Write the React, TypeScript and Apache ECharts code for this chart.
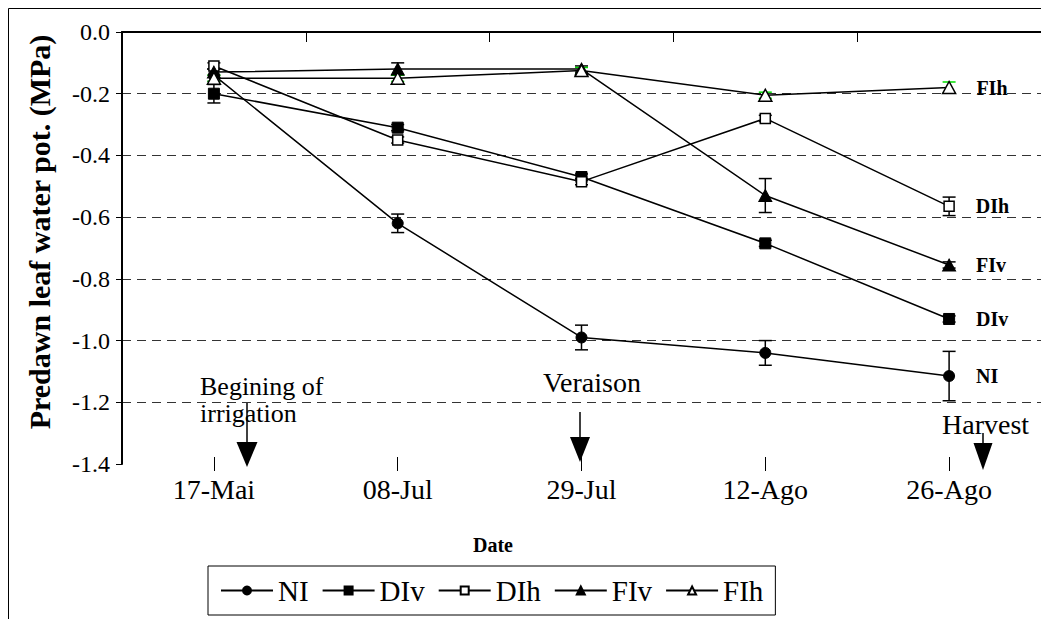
import React, { useEffect, useRef } from 'react';
import * as echarts from 'echarts';

const dates = ['17-Mai', '08-Jul', '29-Jul', '12-Ago', '26-Ago'];
const seriesNames = ['NI', 'DIv', 'DIh', 'FIv', 'FIh'];

const NI = [-0.14, -0.62, -0.99, -1.04, -1.115];
const NIerr = [0.02, 0.03, 0.04, 0.04, 0.08];
const DIv = [-0.2, -0.31, -0.47, -0.685, -0.93];
const DIvErr = [0.03, 0.01, 0.01, 0.01, 0.01];
const DIh = [-0.11, -0.35, -0.485, -0.28, -0.565];
const DIhErr = [0.01, 0.01, 0.01, 0.01, 0.03];
const FIv = [-0.13, -0.12, -0.12, -0.53, -0.755];
const FIvErr = [0.01, 0.02, 0.01, 0.055, 0.01];
const FIh = [-0.15, -0.15, -0.125, -0.205, -0.18];
const FIhErr = [0.01, 0.01, 0.01, 0.01, 0.018];

const yMin = -1.4;
const yMax = 0;
const yStep = 0.2;

const SERIF = '"Times New Roman", "Liberation Serif", Times, serif';

function errorSeries(name: string, values: number[], errs: number[], color: string) {
  return {
    type: 'custom',
    name: name + '-err',
    xAxisIndex: 0,
    yAxisIndex: 0,
    silent: true,
    z: 1,
    data: values.map((v, i) => [i, v, errs[i]]),
    renderItem: (params: any, api: any) => {
      const x = api.value(0);
      const y = api.value(1);
      const e = api.value(2);
      const top = api.coord([x, y + e]);
      const bot = api.coord([x, y - e]);
      const hw = 6.5;
      const style = { stroke: color, lineWidth: 1.5 };
      return {
        type: 'group',
        children: [
          { type: 'line', shape: { x1: top[0], y1: top[1], x2: bot[0], y2: bot[1] }, style },
          { type: 'line', shape: { x1: top[0] - hw, y1: top[1], x2: top[0] + hw, y2: top[1] }, style },
          { type: 'line', shape: { x1: bot[0] - hw, y1: bot[1], x2: bot[0] + hw, y2: bot[1] }, style },
        ],
      };
    },
  };
}

function lineSeries(name: string, values: number[], symbol: string, size: any, filled: boolean, labelDist: number) {
  const last = values.length - 1;
  return {
    type: 'line',
    name,
    xAxisIndex: 0,
    yAxisIndex: 0,
    z: 3,
    symbol,
    symbolSize: size,
    showAllSymbol: true,
    lineStyle: { color: '#000', width: 1.5 },
    itemStyle: filled
      ? { color: '#000', borderColor: '#000', borderWidth: 1 }
      : { color: '#fff', borderColor: '#000', borderWidth: 1.5 },
    data: values.map((v, i) =>
      i === last
        ? {
            value: v,
            label: {
              show: true,
              position: 'right',
              distance: labelDist,
              formatter: '{a}',
              fontFamily: SERIF,
              fontWeight: 'bold',
              fontSize: 20,
              color: '#000',
            },
          }
        : v
    ),
  };
}

function arrow(x: number, yStart: number, yHead: number, yTip: number, halfW: number) {
  return [
    { type: 'line', shape: { x1: x, y1: yStart, x2: x, y2: yHead }, style: { stroke: '#000', lineWidth: 1.5 }, z: 10 },
    { type: 'polygon', shape: { points: [[x - halfW, yHead], [x + halfW, yHead], [x, yTip]] }, style: { fill: '#000' }, z: 10 },
  ];
}

function annText(text: string, x: number, y: number, size: number) {
  return {
    type: 'text',
    x,
    y,
    z: 9,
    style: {
      text,
      fontFamily: SERIF,
      fontSize: size,
      fill: '#000',
      textAlign: 'left',
      textVerticalAlign: 'middle',
    },
  };
}

export default function App() {
  const ref = useRef<HTMLDivElement>(null);

  useEffect(() => {
    document.body.style.margin = '0';
    if (!ref.current) return;
    const chart = echarts.init(ref.current, null, { renderer: 'svg' });

    const xAxisBase = {
      type: 'category',
      data: dates,
      gridIndex: 0,
      position: 'bottom',
      boundaryGap: true,
    };

    const option: any = {
      animation: false,
      backgroundColor: '#fff',
      grid: { left: 122, top: 32, width: 931, height: 432 },
      legend: {
        data: seriesNames,
        left: 208,
        top: 566,
        orient: 'horizontal',
        itemWidth: 52,
        itemHeight: 10,
        itemGap: 13,
        borderColor: '#000',
        borderWidth: 1,
        padding: [10, 12],
        backgroundColor: '#fff',
        selectedMode: false,
        textStyle: { fontFamily: SERIF, fontSize: 29, color: '#000' },
      },
      xAxis: [
        {
          ...xAxisBase,
          axisLine: { show: true, lineStyle: { color: '#000', width: 2 } },
          axisTick: { show: true, length: 10, lineStyle: { color: '#000', width: 1 } },
          axisLabel: { fontFamily: SERIF, fontSize: 28, color: '#000', margin: 11 },
          splitLine: { show: false },
        },
        {
          ...xAxisBase,
          axisLine: { show: false },
          axisTick: { show: true, alignWithLabel: true, length: 7, lineStyle: { color: '#000', width: 1 } },
          axisLabel: { show: false },
          splitLine: { show: false },
        },
        {
          ...xAxisBase,
          axisLine: { show: false },
          axisTick: { show: true, inside: true, alignWithLabel: true, length: 7, lineStyle: { color: '#000', width: 1 } },
          axisLabel: { show: false },
          splitLine: { show: false },
        },
      ],
      yAxis: {
        type: 'value',
        min: yMin,
        max: yMax,
        interval: yStep,
        axisLine: { show: true, lineStyle: { color: '#000', width: 2 } },
        axisTick: { show: true, length: 6, lineStyle: { color: '#000', width: 1 } },
        axisLabel: {
          fontFamily: SERIF,
          fontSize: 24,
          color: '#000',
          margin: 12,
          formatter: (v: number) => v.toFixed(1),
        },
        splitLine: {
          show: true,
          showMaxLine: false,
          showMinLine: false,
          lineStyle: { type: [9, 6], color: '#333', width: 1 },
        },
      },
      graphic: [
        {
          type: 'rect',
          shape: { x: 8.5, y: 8.5, width: 1200, height: 800 },
          style: { fill: 'none', stroke: '#000', lineWidth: 1 },
          silent: true,
          z: 0,
        },
        {
          type: 'text',
          x: 39,
          y: 232,
          rotation: Math.PI / 2,
          style: {
            text: 'Predawn leaf water pot. (MPa)',
            fontFamily: SERIF,
            fontWeight: 'bold',
            fontSize: 30,
            fill: '#000',
            textAlign: 'center',
            textVerticalAlign: 'middle',
          },
        },
        {
          type: 'text',
          x: 493,
          y: 545,
          style: {
            text: 'Date',
            fontFamily: SERIF,
            fontWeight: 'bold',
            fontSize: 20,
            fill: '#000',
            textAlign: 'center',
            textVerticalAlign: 'middle',
          },
        },
        annText('Begining of', 200, 386, 26),
        annText('irrigation', 200, 413, 26),
        annText('Veraison', 543, 382, 28),
        annText('Harvest', 942, 424, 28),
        ...arrow(247, 403, 442, 467, 10.5),
        ...arrow(580, 412, 437, 462, 10),
        ...arrow(983, 433, 443, 470, 9.5),
      ],
      series: [
        errorSeries('NI', NI, NIerr, '#000'),
        errorSeries('DIv', DIv, DIvErr, '#000'),
        errorSeries('DIh', DIh, DIhErr, '#000'),
        errorSeries('FIv', FIv, FIvErr, '#000'),
        errorSeries('FIh', FIh, FIhErr, '#00dd00'),
        lineSeries('NI', NI, 'circle', 11, true, 21),
        lineSeries('DIv', DIv, 'rect', 11, true, 21),
        lineSeries('DIh', DIh, 'rect', 10, false, 21),
        lineSeries('FIv', FIv, 'triangle', [13, 12], true, 20),
        lineSeries('FIh', FIh, 'triangle', [13, 12], false, 20),
      ],
    };

    chart.setOption(option);
    return () => {
      chart.dispose();
    };
  }, []);

  return <div ref={ref} style={{ width: 1041, height: 619, overflow: 'hidden' }} />;
}
